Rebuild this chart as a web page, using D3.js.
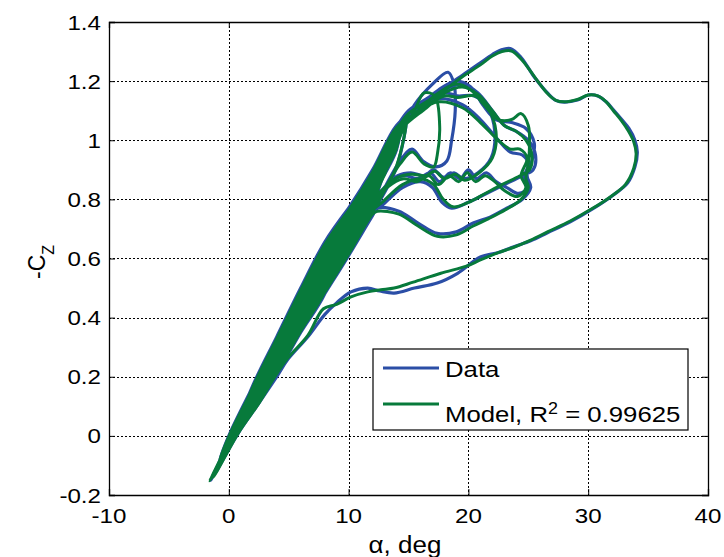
<!DOCTYPE html>
<html>
<head>
<meta charset="utf-8">
<script src="https://cdn.jsdelivr.net/npm/d3@7"></script>
<style>
  body { margin: 0; background: #fff; }
  text { font-family: "Liberation Sans", Arial, sans-serif; fill: #000; }
</style>
</head>
<body>
<div id="chart"></div>
<script>
// Tick values
const xTicks = [-10, 0, 10, 20, 30, 40];
const yTicks = [-0.2, 0, 0.2, 0.4, 0.6, 0.8, 1, 1.2, 1.4];
const legendLabels = ["Data", "Model, R"];

// Measured trajectory, [alpha deg, -Cz]
const dataPath = [
  // oscillations along the linear band
  [0.5,0.0],[2,0.154],[4,0.31],[6,0.47],[7.2,0.55],
  [6,0.38],[4,0.235],[2,0.106],[0.3,-0.01],
  [2,0.17],[4,0.335],[6,0.50],[8,0.655],[10,0.77],[10.6,0.80],
  [10,0.626],[8,0.498],[6,0.365],[4,0.223],[2,0.098],[-0.5,-0.07],
  [1,0.05],[2,0.146],[4,0.298],[6,0.455],[8,0.603],[10,0.722],[12,0.854],[12.5,0.89],
  [12,0.792],[10,0.658],[8,0.533],[6,0.395],[4,0.248],[2,0.114],[0.8,0.02],
  [2,0.134],[4,0.279],[6,0.433],[8,0.576],[9.5,0.66],
  [8,0.48],[6,0.35],[4,0.21],[2,0.09],[0,-0.03],[-1.5,-0.15],
  [-0.8,-0.09],[0,0.0],[2,0.166],[4,0.329],[6,0.493],[8,0.646],[10,0.762],[12,0.892],[14,1.043],[14.3,1.06],
  [14,0.968],[12,0.815],[10,0.682],[8,0.559],[6,0.418],[4,0.266],[2,0.126],[0.2,-0.01],
  [2,0.142],[4,0.291],[6,0.448],[8,0.594],[10,0.714],[11.5,0.81],
  [10,0.634],[8,0.506],[6,0.373],[4,0.229],[2,0.102],[1.2,0.05],
  [2,0.158],[4,0.316],[6,0.478],[8,0.629],[10,0.746],[12,0.877],[14,1.028],[14.8,1.08],
  [14,0.908],[12,0.753],[10,0.618],[8,0.489],[6,0.358],[4,0.216],[2,0.094],[0,-0.029],[-1.0,-0.11],
  [0,-0.015],[2,0.13],[4,0.273],[6,0.425],[8,0.568],[10,0.69],[12,0.823],[13.2,0.91],
  [12,0.799],[10,0.666],[8,0.541],[6,0.403],[4,0.254],[2.5,0.15],
  [4,0.323],[6,0.485],[8,0.638],[10,0.754],[12,0.885],[13.8,1.02],
  [12,0.784],[10,0.65],[8,0.524],[6,0.388],[4,0.241],[2,0.11],[0.6,0.0],
  [2,0.15],[4,0.304],[6,0.463],[8,0.611],[9.8,0.72],
  [8,0.55],[6,0.41],[4,0.26],[2,0.122],[-0.3,-0.04],
  [1,0.045],[2,0.138],[4,0.285],[6,0.44],[8,0.585],[10,0.706],[12,0.838],[14,0.99],[14.5,1.04],
  // loop peaking near 18 deg
  [15.5,1.12],[17.0,1.19],[18.3,1.23],[18.8,1.19],[18.9,1.10],[18.6,1.00],[18.2,0.93],[17.3,0.91],[16.2,0.93],[15.3,0.97],[14.3,0.93],[12.5,0.80],
  [12,0.764],[10,0.629],[8,0.501],[6,0.368],[4,0.225],[2,0.1],[0.5,-0.005],
  [2,0.162],[4,0.323],[6,0.485],[8,0.638],[10,0.754],[12,0.885],[13.5,0.99],[15.0,1.08],
  // middle loop
  [16.6,1.13],[18.0,1.16],[19.1,1.15],[20.5,1.15],[21.6,1.11],[22.2,1.03],[21.9,0.94],[20.8,0.89],[19.6,0.87],[18.8,0.89],[17.9,0.875],[17.1,0.90],[16.3,0.88],[15.2,0.89],[14.1,0.88],[13.0,0.84],
  [12,0.792],[10,0.658],[8,0.533],[6,0.395],[4,0.248],[2,0.114],[1.2,0.06],
  [2,0.154],[4,0.31],[6,0.47],[8,0.62],[10,0.738],[12,0.869],[14,1.02],[15.8,1.11],
  // wide inner loop
  [17.5,1.17],[19.0,1.20],[20.2,1.18],[21.2,1.12],[22.3,1.07],[23.6,1.06],[24.8,1.04],[25.5,0.99],[25.3,0.93],[24.9,0.88],[25.2,0.84],[24.5,0.80],[23.2,0.77],[21.8,0.74],[20.4,0.72],[19.0,0.69],[17.4,0.685],[15.8,0.72],[14.2,0.76],[12.4,0.77],
  [12,0.745],[10,0.61],[8,0.48],[6,0.35],[4,0.21],[2,0.09],[0.2,-0.025],
  [2,0.17],[4,0.335],[6,0.50],[8,0.655],[10,0.77],[12,0.90],[14,1.05],[15.5,1.10],
  // wavy loop
  [17.5,1.14],[19.5,1.12],[21.0,1.07],[22.5,1.00],[23.5,0.96],[24.5,0.95],[25.0,0.92],[24.6,0.87],[25.0,0.84],[24.2,0.82],[23.2,0.84],[22.3,0.86],[21.5,0.89],[20.7,0.87],[20.0,0.90],[19.3,0.87],[18.5,0.89],[17.6,0.86],[16.8,0.89],[15.8,0.87],[14.6,0.88],[13.2,0.85],
  [12,0.776],[10,0.642],[8,0.515],[6,0.38],[4,0.235],[2,0.106],[1.5,0.07],
  [2,0.146],[4,0.298],[6,0.455],[8,0.603],[10,0.722],[12,0.854],[14,1.005],[14.5,1.05],
  // loop with lower diagonal
  [16.5,1.12],[18.0,1.17],[19.5,1.19],[20.8,1.16],[22.0,1.10],[23.0,1.05],[24.0,1.03],[25.0,1.00],[25.6,0.95],[25.4,0.90],[24.5,0.88],[23.0,0.85],[21.5,0.82],[20.0,0.79],[18.6,0.77],[17.8,0.79],[17.0,0.84],[16.0,0.86],[14.5,0.84],[12.8,0.78],
  [12,0.757],[10,0.623],[8,0.494],[6,0.362],[4,0.22],[2,0.096],[0,-0.028],[-0.8,-0.09],
  [0,0.0],[2,0.166],[4,0.329],[6,0.493],[8,0.646],[10,0.762],[12,0.892],[14,1.043],[15.0,1.10],
  // big outer loop and return
  [16.5,1.14],[18.0,1.18],[19.5,1.22],[21.0,1.262],[22.0,1.29],[22.7,1.305],[23.5,1.31],[24.4,1.28],[25.5,1.214],[26.6,1.16],[27.3,1.135],[28.0,1.129],[29.1,1.136],[30.0,1.153],[30.8,1.15],[31.5,1.13],[32.1,1.103],[32.8,1.07],[33.4,1.04],[33.9,1.00],[34.1,0.96],[33.9,0.91],[33.3,0.856],[32.1,0.815],[30.5,0.771],[28.5,0.724],[26.6,0.687],[25.2,0.66],[23.8,0.64],[22.5,0.62],[21.0,0.605],[19.1,0.55],[17.4,0.517],[15.5,0.50],[13.8,0.483],[12.6,0.49],[11.6,0.50],[10.2,0.487],[9.0,0.45],[8.0,0.41],[6.6,0.335],[4.9,0.257],[4.1,0.206],
  [2.5,0.11],[0.8,0.01],[-1.2,-0.13],[0.5,0.02]
];

// Model trajectory, [alpha deg, -Cz]
const modelPath = [
  [0.5,0.003],[2,0.148],[4,0.303],[6,0.462],[7.2,0.542],
  [6,0.384],[4,0.24],[2,0.11],[0.3,-0.007],
  [2,0.164],[4,0.328],[6,0.492],[8,0.646],[10,0.762],[10.6,0.792],
  [10,0.631],[8,0.503],[6,0.37],[4,0.228],[2,0.102],[-0.5,-0.068],
  [1,0.046],[2,0.14],[4,0.292],[6,0.448],[8,0.596],[10,0.715],[12,0.847],[12.5,0.882],
  [12,0.797],[10,0.663],[8,0.538],[6,0.4],[4,0.252],[2,0.118],[0.8,0.024],
  [2,0.129],[4,0.273],[6,0.426],[8,0.569],[9.5,0.652],
  [8,0.486],[6,0.355],[4,0.215],[2,0.094],[0,-0.027],[-1.6,-0.152],
  [-0.8,-0.092],[0,-0.003],[2,0.16],[4,0.322],[6,0.486],[8,0.638],[10,0.755],[12,0.885],[14,1.035],[14.3,1.052],
  [14,0.973],[12,0.82],[10,0.687],[8,0.564],[6,0.423],[4,0.27],[2,0.13],[0.2,-0.007],
  [2,0.137],[4,0.285],[6,0.441],[8,0.587],[10,0.707],[11.5,0.802],
  [10,0.639],[8,0.511],[6,0.378],[4,0.233],[2,0.106],[1.2,0.053],
  [2,0.152],[4,0.31],[6,0.471],[8,0.621],[10,0.739],[12,0.87],[14,1.02],[14.8,1.072],
  [14,0.913],[12,0.758],[10,0.623],[8,0.494],[6,0.363],[4,0.221],[2,0.098],[0,-0.026],[-1.0,-0.108],
  [0,-0.017],[2,0.125],[4,0.267],[6,0.418],[8,0.561],[10,0.683],[12,0.816],[13.2,0.902],
  [12,0.804],[10,0.671],[8,0.546],[6,0.408],[4,0.258],[2.5,0.154],
  [4,0.317],[6,0.478],[8,0.63],[10,0.747],[12,0.878],[13.8,1.012],
  [12,0.789],[10,0.655],[8,0.529],[6,0.393],[4,0.245],[2,0.114],[0.6,0.003],
  [2,0.145],[4,0.298],[6,0.456],[8,0.604],[9.8,0.712],
  [8,0.555],[6,0.415],[4,0.264],[2,0.126],[-0.3,-0.037],
  [1,0.041],[2,0.133],[4,0.279],[6,0.433],[8,0.578],[10,0.699],[12,0.831],[14,0.983],[14.5,1.032],
  [15.5,1.10],[16.3,1.16],[17.2,1.15],[17.6,1.05],[17.4,0.95],[17.1,0.91],[16.3,0.92],[15.3,0.96],[14.3,0.92],[12.5,0.80],
  [12,0.769],[10,0.634],[8,0.506],[6,0.373],[4,0.229],[2,0.104],[0.5,-0.002],
  [2,0.156],[4,0.317],[6,0.478],[8,0.63],[10,0.747],[12,0.878],[13.5,0.982],[15.0,1.07],
  [16.6,1.12],[18.0,1.15],[19.1,1.145],[20.5,1.15],[21.6,1.11],[22.3,1.03],[22.0,0.94],[20.9,0.89],[19.7,0.865],[18.9,0.885],[18.0,0.87],[17.2,0.895],[16.4,0.88],[15.3,0.885],[14.1,0.875],[13.0,0.84],
  [12,0.797],[10,0.663],[8,0.538],[6,0.4],[4,0.252],[2,0.118],[1.2,0.063],
  [2,0.148],[4,0.303],[6,0.463],[8,0.612],[10,0.731],[12,0.862],[14,1.012],[15.8,1.10],
  [17.5,1.16],[19.0,1.19],[20.2,1.17],[21.3,1.12],[22.5,1.07],[23.6,1.07],[24.4,1.09],[25.0,1.05],[25.1,0.98],[25.0,0.92],[24.8,0.87],[25.0,0.84],[24.4,0.80],[23.1,0.765],[21.7,0.735],[20.4,0.71],[19.0,0.68],[17.4,0.675],[15.8,0.71],[14.2,0.75],[12.4,0.76],
  [12,0.75],[10,0.615],[8,0.485],[6,0.355],[4,0.214],[2,0.094],[0.2,-0.022],
  [2,0.164],[4,0.328],[6,0.492],[8,0.646],[10,0.762],[12,0.892],[14,1.042],[15.5,1.09],
  [17.5,1.13],[19.5,1.11],[21.0,1.06],[22.5,1.00],[23.5,0.97],[24.3,0.97],[24.9,0.94],[24.4,0.88],[24.8,0.84],[24.1,0.81],[23.0,0.83],[22.2,0.86],[21.4,0.88],[20.6,0.86],[19.9,0.89],[19.2,0.86],[18.4,0.88],[17.5,0.85],[16.7,0.88],[15.7,0.86],[14.6,0.87],[13.2,0.84],
  [12,0.781],[10,0.647],[8,0.52],[6,0.385],[4,0.239],[2,0.11],[1.5,0.074],
  [2,0.14],[4,0.292],[6,0.448],[8,0.596],[10,0.715],[12,0.847],[14,0.998],[14.5,1.042],
  [16.5,1.11],[18.0,1.16],[19.5,1.18],[20.8,1.155],[22.0,1.10],[23.0,1.05],[24.0,1.03],[24.8,1.00],[25.3,0.95],[25.1,0.90],[24.3,0.88],[22.8,0.85],[21.4,0.82],[20.0,0.79],[18.7,0.775],[17.9,0.80],[17.1,0.85],[16.0,0.87],[14.5,0.85],[12.8,0.79],
  [12,0.762],[10,0.628],[8,0.499],[6,0.367],[4,0.224],[2,0.1],[0,-0.025],[-0.8,-0.088],
  [0,-0.003],[2,0.16],[4,0.322],[6,0.486],[8,0.638],[10,0.755],[12,0.885],[14,1.035],[15.0,1.09],
  [16.5,1.13],[18.0,1.17],[19.5,1.215],[21.0,1.255],[22.0,1.285],[22.8,1.30],[23.6,1.302],[24.5,1.27],[25.6,1.21],[26.6,1.158],[27.3,1.135],[28.0,1.13],[29.1,1.138],[30.0,1.153],[30.8,1.15],[31.5,1.13],[32.1,1.10],[32.8,1.065],[33.3,1.035],[33.8,0.995],[34.0,0.955],[33.8,0.905],[33.1,0.85],[31.9,0.81],[30.3,0.768],[28.5,0.727],[26.6,0.69],[25.2,0.662],[23.8,0.638],[22.5,0.62],[21.0,0.595],[19.9,0.575],[17.7,0.55],[15.4,0.52],[13.8,0.50],[12.7,0.494],[11.6,0.487],[10.2,0.47],[9.0,0.445],[7.9,0.43],[6.6,0.34],[4.9,0.262],[4.0,0.21],
  [2.5,0.11],[0.8,0.01],[-1.3,-0.14],[0.5,0.03]
];

const svgWidth = 724, svgHeight = 557;
// plot box edges in px
const boxLeft = 109, boxRight = 708, boxTop = 22, boxBottom = 495;
const blue = "#2b4ea6", green = "#077a3b";

const svg = d3.select("#chart").append("svg")
  .attr("width", svgWidth)
  .attr("height", svgHeight);

const x = d3.scaleLinear().domain([-10, 40]).range([boxLeft, boxRight]);
const y = d3.scaleLinear().domain([-0.2, 1.4]).range([boxBottom, boxTop]);

// text is a bit wider than tall in the picture
const addText = (g, px, py, str, size, anchor, sx) => g.append("text")
  .attr("transform", `translate(${px},${py}) scale(${sx},1)`)
  .attr("text-anchor", anchor)
  .style("font-size", size + "px")
  .text(str);

// ** Dotted grid
svg.append("g").selectAll("line").data(xTicks.slice(1, -1)).enter().append("line")
  .attr("x1", d => Math.round(x(d)) + 0.5).attr("x2", d => Math.round(x(d)) + 0.5)
  .attr("y1", boxTop).attr("y2", boxBottom)
  .attr("stroke", "#000").attr("stroke-width", 1).attr("stroke-dasharray", "2,2")
  .attr("shape-rendering", "crispEdges");
svg.append("g").selectAll("line").data(yTicks.slice(1, -1)).enter().append("line")
  .attr("x1", boxLeft).attr("x2", boxRight)
  .attr("y1", d => Math.round(y(d)) + 0.5).attr("y2", d => Math.round(y(d)) + 0.5)
  .attr("stroke", "#000").attr("stroke-width", 1).attr("stroke-dasharray", "2,2")
  .attr("shape-rendering", "crispEdges");

// ** Curves
const line = d3.line()
  .x(d => x(d[0]))
  .y(d => y(d[1]))
  .curve(d3.curveCatmullRom.alpha(0.5));

svg.append("path").datum(dataPath)
  .attr("d", line).attr("fill", "none")
  .attr("stroke", blue).attr("stroke-width", 3.2).attr("stroke-linejoin", "round");
svg.append("path").datum(modelPath)
  .attr("d", line).attr("fill", "none")
  .attr("stroke", green).attr("stroke-width", 3).attr("stroke-linejoin", "round");

// ** Axes (ticks point inward, box on all sides)
svg.append("g").attr("transform", `translate(0,${boxBottom})`)
  .call(d3.axisBottom(x).tickValues(xTicks).tickSize(-6).tickFormat(""));
svg.append("g").attr("transform", `translate(0,${boxTop})`)
  .call(d3.axisTop(x).tickValues(xTicks).tickSize(-6).tickFormat(""));
svg.append("g").attr("transform", `translate(${boxLeft},0)`)
  .call(d3.axisLeft(y).tickValues(yTicks).tickSize(-6).tickFormat(""));
svg.append("g").attr("transform", `translate(${boxRight},0)`)
  .call(d3.axisRight(y).tickValues(yTicks).tickSize(-6).tickFormat(""));
svg.selectAll(".domain").attr("stroke", "#000").attr("stroke-width", 1.3);
svg.selectAll(".tick line").attr("stroke", "#000");

// ** Tick labels
const labels = svg.append("g");
xTicks.forEach(t => addText(labels, x(t), 523, String(t), 21, "middle", 1.15));
yTicks.forEach(t => addText(labels, 101, y(t) + 7.5, String(t), 21, "end", 1.15));

// ** Axis titles
addText(svg, 405, 553, "\u03b1, deg", 23, "middle", 1.13);
const yTitle = svg.append("text")
  .attr("transform", "translate(45,262) rotate(-90)")
  .attr("text-anchor", "middle")
  .style("font-size", "23px");
yTitle.append("tspan").text("-C");
yTitle.append("tspan").attr("baseline-shift", "sub").style("font-size", "16px").text("Z");

// ** Legend
const legend = svg.append("g");
legend.append("rect")
  .attr("x", 373).attr("y", 349).attr("width", 315).attr("height", 81)
  .attr("fill", "#fff").attr("stroke", "#000").attr("stroke-width", 1.2);
legend.append("line").attr("x1", 383).attr("x2", 439).attr("y1", 368).attr("y2", 368)
  .attr("stroke", blue).attr("stroke-width", 3);
legend.append("line").attr("x1", 383).attr("x2", 439).attr("y1", 404).attr("y2", 404)
  .attr("stroke", green).attr("stroke-width", 3);
addText(legend, 445, 377, legendLabels[0], 23, "start", 1.12);
const modelLabel = addText(legend, 445, 422, legendLabels[1], 23, "start", 1.12);
modelLabel.append("tspan").attr("baseline-shift", "super").style("font-size", "16px").text("2");
modelLabel.append("tspan").text(" = 0.99625");
</script>
</body>
</html>
